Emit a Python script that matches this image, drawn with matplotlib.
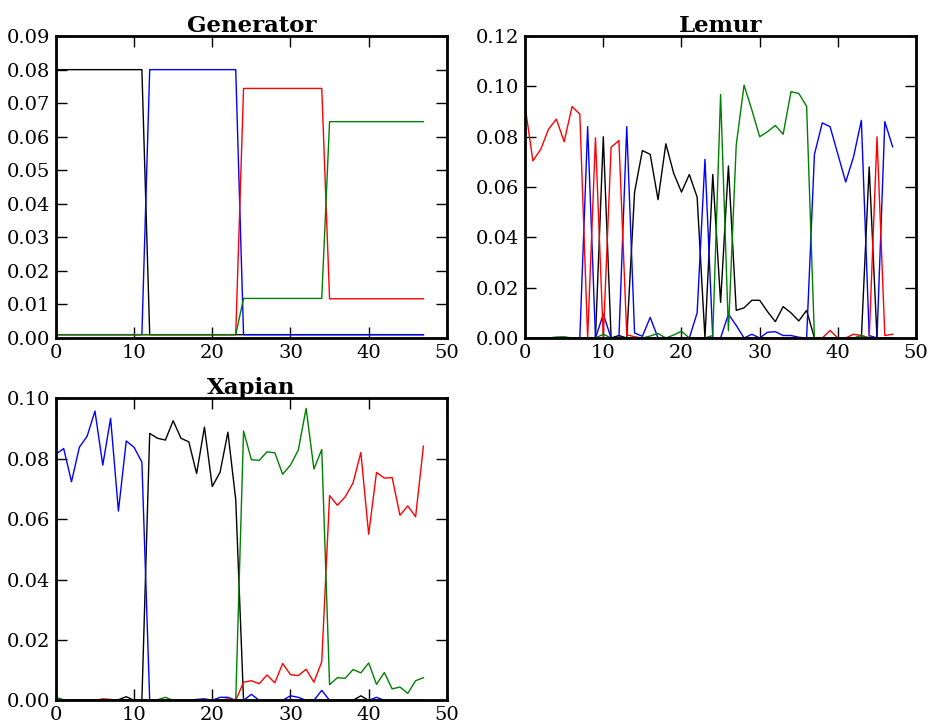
import matplotlib
matplotlib.use("Agg")
import matplotlib.pyplot as plt
import numpy as np

x = list(range(48))

# Generator
gen_black = [0.08] * 12 + [0.001] * 36
gen_blue = [0.001] * 12 + [0.08] * 12 + [0.001] * 24
gen_red = [0.001] * 24 + [0.0744] * 11 + [0.0117] * 13
gen_green = [0.001] * 24 + [0.0118] * 11 + [0.0645] * 13

# Lemur
lem_black = [0, 0, 0, 0, 0, 0, 0, 0, 0, 0, 0.080, 0, 0.001, 0, 0.058, 0.0745,
             0.073, 0.055, 0.0772, 0.0655, 0.058, 0.065, 0.056, 0, 0.065, 0.0142,
             0.0684, 0.011, 0.012, 0.015, 0.015, 0.0105, 0.0065, 0.0125, 0.010, 0.0068,
             0.011, 0, 0, 0, 0, 0, 0, 0, 0.068, 0, 0, 0]
lem_blue = [0, 0, 0, 0, 0, 0, 0, 0, 0.084, 0, 0.0095, 0, 0, 0.084, 0.002, 0.0007,
            0.0082, 0, 0, 0, 0, 0, 0.010, 0.071, 0, 0, 0.0095, 0.005, 0, 0.0015,
            0, 0.0023, 0.0025, 0.001, 0.001, 0.0003, 0, 0.073, 0.0855, 0.084, 0.073, 0.062,
            0.072, 0.0865, 0.001, 0, 0.086, 0.076]
lem_red = [0.0922, 0.0704, 0.075, 0.083, 0.087, 0.078, 0.092, 0.089, 0, 0.0796, 0,
           0.0758, 0.0785, 0.0013, 0.0005, 0, 0, 0, 0, 0, 0, 0, 0, 0, 0, 0, 0, 0, 0,
           0, 0, 0, 0, 0, 0, 0, 0, 0, 0, 0.003, 0, 0, 0.0015, 0.001, 0, 0.080, 0.001, 0.0015]
lem_green = [0, 0, 0, 0, 0.0004, 0.0005, 0, 0, 0, 0, 0.0015, 0, 0, 0, 0, 0, 0.0008,
             0.0018, 0, 0.0012, 0.0027, 0, 0, 0, 0.001, 0.0968, 0.0029, 0.0767, 0.1005,
             0.0906, 0.080, 0.082, 0.0845, 0.081, 0.0979, 0.0972, 0.0921, 0, 0, 0, 0, 0,
             0, 0.001, 0, 0, 0, 0]

# Xapian
xap_black = [0.0002] * 9 + [0.0012, 0, 0, 0.0884, 0.0868, 0.0862, 0.0926, 0.0868, 0.0856,
             0.0751, 0.0905, 0.0708, 0.0756, 0.0888, 0.0665] + [0] * 15 + [0.0015] + [0] * 8
xap_blue = [0.0815, 0.0834, 0.0724, 0.0838, 0.0875, 0.0958, 0.0779, 0.0934, 0.0627,
            0.0859, 0.0838, 0.0789, 0, 0, 0, 0, 0, 0, 0.0003, 0.0005, 0, 0.001, 0.001,
            0, 0, 0.002, 0, 0, 0, 0, 0.0015, 0.001, 0, 0, 0.0033, 0, 0, 0, 0, 0, 0,
            0.001, 0, 0, 0, 0, 0, 0]
xap_red = [0, 0, 0, 0, 0, 0, 0.0005, 0.0003, 0, 0, 0, 0, 0, 0, 0, 0, 0, 0, 0, 0, 0,
           0, 0.0005, 0, 0.006, 0.0065, 0.0055, 0.0084, 0.0058, 0.0122, 0.0085, 0.0082,
           0.0103, 0.006, 0.0128, 0.0678, 0.0646, 0.0674, 0.072, 0.0821, 0.055, 0.0755,
           0.0736, 0.0738, 0.0613, 0.0644, 0.0608, 0.0842]
xap_green = [0.001] + [0.0002] * 13 + [0.001] + [0] * 9 + [0.0892, 0.0797, 0.0795, 0.0823,
             0.082, 0.0749, 0.0779, 0.0829, 0.0967, 0.0766, 0.0831, 0.0052, 0.0075,
             0.0073, 0.0102, 0.0091, 0.0124, 0.0053, 0.0092, 0.0038, 0.0044, 0.0023,
             0.0065, 0.0075]

panels = [
    ("Generator", [gen_black, gen_blue, gen_red, gen_green], 0.09, 0.01),
    ("Lemur", [lem_black, lem_blue, lem_red, lem_green], 0.12, 0.02),
    ("Xapian", [xap_black, xap_blue, xap_red, xap_green], 0.10, 0.02),
]
colors = ["k", "b", "r", "g"]

plt.rcParams["font.family"] = "DejaVu Serif"
plt.rcParams["font.size"] = 14

fig = plt.figure(figsize=(9.31, 7.22), dpi=100)
fig.subplots_adjust(left=0.06, right=0.984, bottom=0.03, top=0.95, wspace=0.2, hspace=0.2)

for i, (title, series, ymax, ystep) in enumerate(panels):
    ax = fig.add_subplot(2, 2, i + 1)
    for s, c in zip(series, colors):
        ax.plot(x, s, color=c, linewidth=1)
    ax.set_xlim(0, 50)
    ax.set_ylim(0, ymax)
    ax.set_xticks(range(0, 51, 10))
    ax.set_yticks(np.arange(0, ymax + ystep / 2, ystep))
    ax.yaxis.set_major_formatter(matplotlib.ticker.FormatStrFormatter("%.2f"))
    ax.tick_params(direction="in", length=8, width=1, top=True, right=True, pad=4)
    for sp in ax.spines.values():
        sp.set_linewidth(2)
    ax.set_title(title, fontweight="bold", fontsize=16.5, pad=3)

fig.savefig("out.png", dpi=100)
